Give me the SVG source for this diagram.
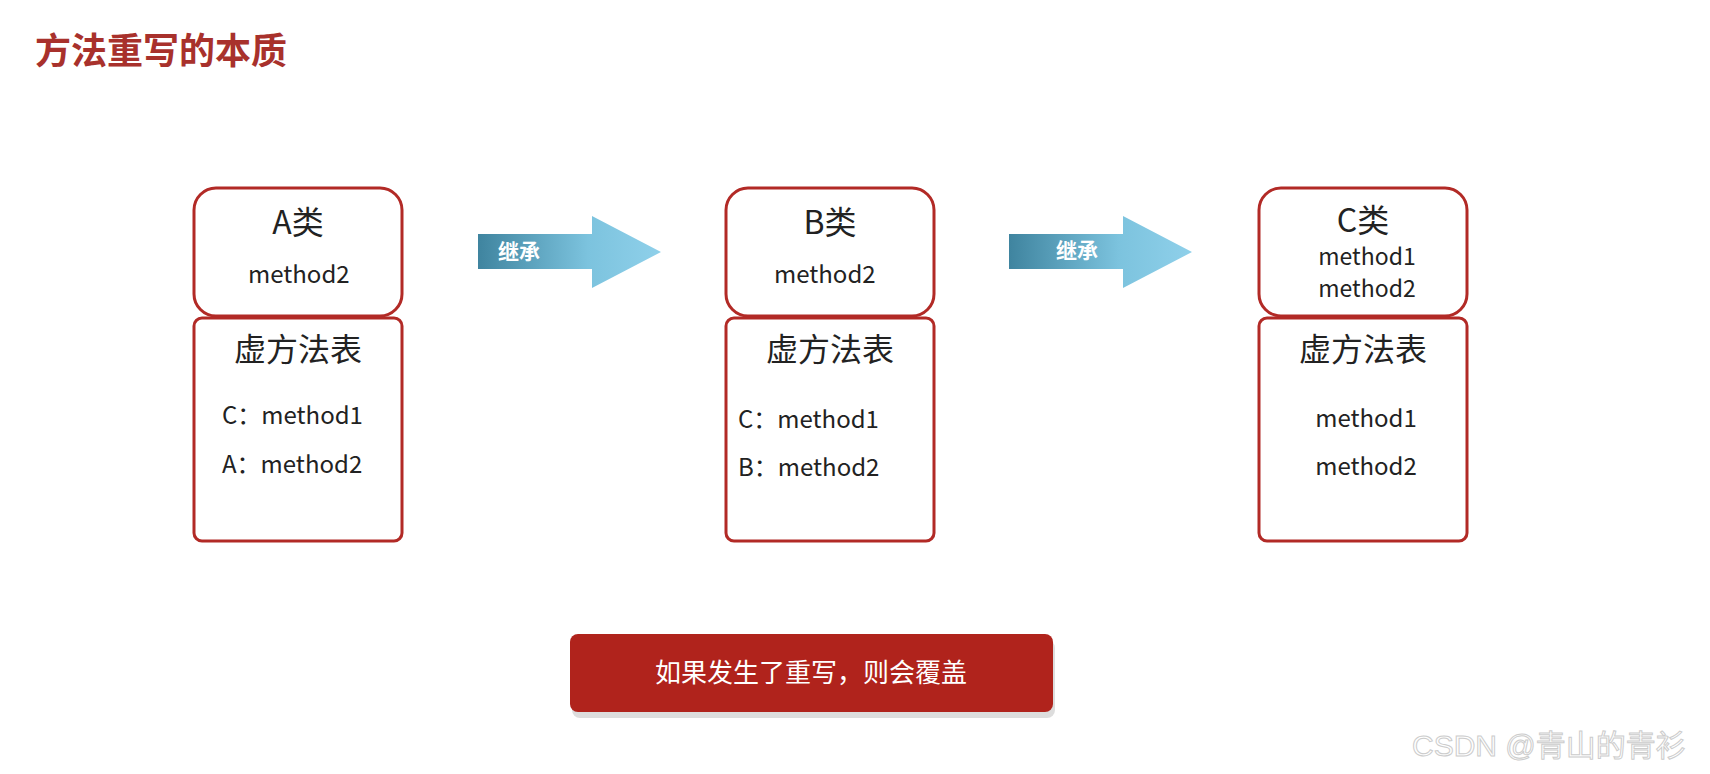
<svg xmlns="http://www.w3.org/2000/svg" width="1710" height="774" viewBox="0 0 1710 774">
<defs>
<linearGradient id="ag" x1="0" y1="0" x2="1" y2="0"><stop offset="0" stop-color="#3f849f"/><stop offset="0.6" stop-color="#7cc3de"/><stop offset="1" stop-color="#8fd0ea"/></linearGradient>
</defs>
<style>
.bx{fill:#fff;stroke:#b22a26;stroke-width:3}
.t{font-family:"Noto Sans CJK SC","Noto Sans",sans-serif;fill:#222}
.h{font-size:32px;text-anchor:middle}
.m{font-size:24px}
.a{font-family:"Noto Sans CJK SC",sans-serif;font-size:21px;font-weight:bold;fill:#fff}
</style>
<rect width="1710" height="774" fill="#fff"/>
<text x="35" y="64" font-family="Noto Sans CJK SC,sans-serif" font-size="36" font-weight="bold" fill="#a8312c">方法重写的本质</text>
<g id="A">
<rect class="bx" x="194" y="188" width="208" height="128" rx="22"/>
<rect class="bx" x="194" y="318" width="208" height="223" rx="8"/>
<text class="t h" x="298" y="234">A类</text>
<text class="t m" x="248" y="283">method2</text>
<text class="t h" x="298" y="361">虚方法表</text>
<text class="t m" x="222" y="424">C：method1</text>
<text class="t m" x="222" y="473">A：method2</text>
</g>
<g id="B">
<rect class="bx" x="726" y="188" width="208" height="128" rx="22"/>
<rect class="bx" x="726" y="318" width="208" height="223" rx="8"/>
<text class="t h" x="830" y="234">B类</text>
<text class="t m" x="774" y="283">method2</text>
<text class="t h" x="830" y="361">虚方法表</text>
<text class="t m" x="738" y="428">C：method1</text>
<text class="t m" x="738" y="476">B：method2</text>
</g>
<g id="C">
<rect class="bx" x="1259" y="188" width="208" height="128" rx="22"/>
<rect class="bx" x="1259" y="318" width="208" height="223" rx="8"/>
<text class="t h" x="1363" y="232">C类</text>
<text class="t" x="1367" y="265" font-size="23" text-anchor="middle">method1</text>
<text class="t" x="1367" y="297" font-size="23" text-anchor="middle">method2</text>
<text class="t h" x="1363" y="361">虚方法表</text>
<text class="t m" x="1366" y="427" text-anchor="middle">method1</text>
<text class="t m" x="1366" y="475" text-anchor="middle">method2</text>
</g>
<g id="connectors">
<path d="M478,234 H592 V216 L661,252 L592,288 V269 H478 Z" fill="url(#ag)"/>
<text class="a" x="498" y="259">继承</text>
<path d="M1009,234 H1123 V216 L1192,252 L1123,288 V269 H1009 Z" fill="url(#ag)"/>
<text class="a" x="1056" y="258">继承</text>
</g>
<g id="note">
<rect x="572" y="640" width="483" height="78" rx="8" fill="#ddd"/>
<rect x="570" y="634" width="483" height="78" rx="8" fill="#b0231c"/>
<text x="811" y="682" text-anchor="middle" font-family="Noto Sans CJK SC,sans-serif" font-size="26" fill="#fff">如果发生了重写，则会覆盖</text>
</g>
<text x="1412" y="756" font-family="Liberation Sans,Noto Sans CJK SC,sans-serif" font-size="30" fill="#fff" stroke="#ccc" stroke-width="1">CSDN @青山的青衫</text>
</svg>
